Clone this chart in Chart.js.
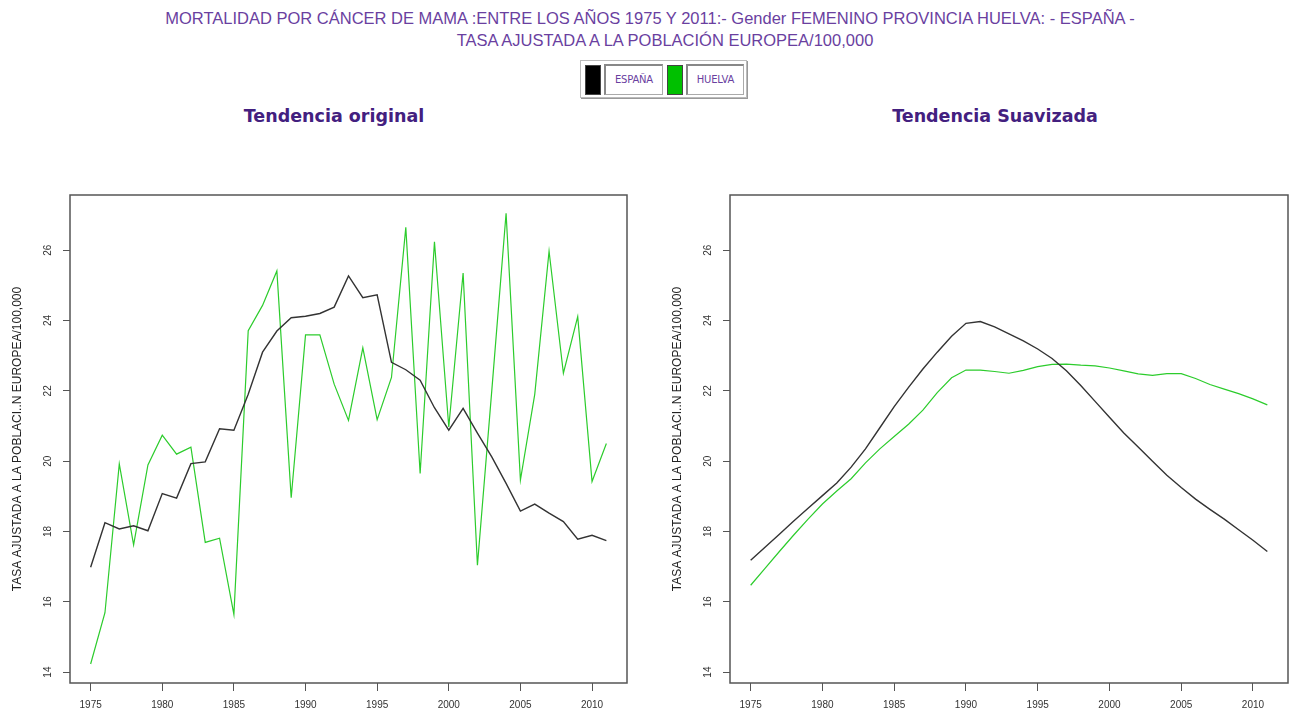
<!DOCTYPE html>
<html>
<head>
<meta charset="utf-8">
<script src="https://cdn.jsdelivr.net/npm/chart.js@4.4.1/dist/chart.umd.min.js"></script>
<style>
  html, body { margin:0; padding:0; background:#fff; width:1290px; height:715px; overflow:hidden; font-family:"Liberation Sans", Arial, sans-serif; }
  .tl { position:absolute; width:1200px; text-align:center; color:#6a3f9f; font-size:16.5px; line-height:20px; white-space:nowrap; }
  #legend { position:absolute; left:580px; top:60px; width:165px; height:36px; border:1px solid #bbb; box-shadow: 1px 1px 0 #999; background:#fff; }
  .sw { position:absolute; top:4px; width:14px; height:28px; border:1px solid #444; }
  .lb { position:absolute; top:3px; height:28px; border:1px solid #aaa; border-left:2px solid #888; border-top:2px solid #888; font-family:"DejaVu Sans", sans-serif; font-size:10px; color:#6a3f9f; line-height:28px; text-align:center; letter-spacing:-0.2px; }
  .sub { position:absolute; top:106px; width:400px; text-align:center; font-family:"DejaVu Sans", sans-serif; font-weight:bold; font-size:17.5px; color:#43207f; white-space:nowrap; }
  .cv { position:absolute; top:150px; height:565px; }
</style>
</head>
<body>
<div class="tl" style="left:50px;top:8px;">MORTALIDAD POR CÁNCER DE MAMA :ENTRE LOS AÑOS 1975 Y 2011:- Gender FEMENINO PROVINCIA HUELVA: - ESPAÑA -</div>
<div class="tl" style="left:65px;top:30px;">TASA AJUSTADA A LA POBLACIÓN EUROPEA/100,000</div>
<div id="legend">
  <div class="sw" style="left:4px;background:#000;"></div>
  <div class="lb" style="left:23px;width:56px;">ESPAÑA</div>
  <div class="sw" style="left:86px;background:#00c000;"></div>
  <div class="lb" style="left:105px;width:55px;">HUELVA</div>
</div>
<div class="sub" style="left:134px;">Tendencia original</div>
<div class="sub" style="left:795px;">Tendencia Suavizada</div>
<div class="cv" style="left:0;width:645px;"><canvas id="c1" width="645" height="565"></canvas></div>
<div class="cv" style="left:660px;width:630px;"><canvas id="c2" width="630" height="565"></canvas></div>
<script>
const years = [1975,1976,1977,1978,1979,1980,1981,1982,1983,1984,1985,1986,1987,1988,1989,1990,1991,1992,1993,1994,1995,1996,1997,1998,1999,2000,2001,2002,2003,2004,2005,2006,2007,2008,2009,2010,2011];
const espanaOriginal = [16.98,18.25,18.07,18.16,18.02,19.08,18.95,19.93,19.98,20.92,20.88,21.9,23.1,23.7,24.08,24.12,24.2,24.38,25.27,24.65,24.73,22.81,22.6,22.3,21.52,20.88,21.5,20.8,20.12,19.37,18.58,18.78,18.52,18.28,17.78,17.89,17.74];
const huelvaOriginal = [14.23,15.69,19.92,17.62,19.89,20.74,20.2,20.4,17.69,17.81,15.64,23.71,24.43,25.41,18.96,23.59,23.59,22.19,21.16,23.22,21.18,22.38,26.65,19.65,26.24,20.97,25.35,17.04,22.0,27.05,19.46,21.9,25.97,22.5,24.11,19.42,20.5];
const espanaSuav = [17.18,17.55,17.92,18.3,18.66,19.02,19.38,19.83,20.35,20.95,21.55,22.1,22.62,23.1,23.55,23.92,23.97,23.82,23.62,23.42,23.19,22.92,22.57,22.15,21.7,21.25,20.8,20.4,20.0,19.6,19.25,18.92,18.63,18.35,18.05,17.75,17.43];
const huelvaSuav = [16.47,16.95,17.43,17.9,18.35,18.78,19.15,19.5,19.95,20.35,20.7,21.05,21.45,21.95,22.37,22.59,22.59,22.55,22.5,22.58,22.69,22.75,22.76,22.73,22.71,22.65,22.57,22.48,22.44,22.49,22.49,22.35,22.18,22.05,21.92,21.77,21.6];
const xTicks = [1975,1980,1985,1990,1995,2000,2005,2010];
const yTicks = [14,16,18,20,22,24,26];
const yTitle = "TASA AJUSTADA A LA POBLACI..N EUROPEA/100,000";

const frame = {
  id:'frame',
  afterDraw(chart){
    const {ctx, chartArea:a} = chart;
    ctx.save(); ctx.strokeStyle='#555'; ctx.lineWidth=1.5;
    ctx.strokeRect(a.left, a.top, a.right-a.left, a.bottom-a.top);
    ctx.restore();
  }
};

function pts(v){ return years.map((y,i)=>({x:y, y:v[i]})); }

function make(id, d1, d2, padRight){
  new Chart(document.getElementById(id), {
    type:'line',
    data:{ datasets:[
      {label:'ESPAÑA', data:pts(d1), borderColor:'#333', borderWidth:1.4, pointRadius:0, tension:0},
      {label:'HUELVA', data:pts(d2), borderColor:'#2ccc2c', borderWidth:1.2, pointRadius:0, tension:0}
    ]},
    options:{
      responsive:false, animation:false,
      layout:{padding:{top:45, right:padRight, left:0, bottom:0}},
      plugins:{legend:{display:false}, tooltip:{enabled:false}},
      scales:{
        x:{ type:'linear', min:1973.56, max:2012.44,
            afterBuildTicks(s){ s.ticks = xTicks.map(v=>({value:v})); },
            afterFit(s){ s.height = 32; },
            grid:{drawOnChartArea:false, tickLength:8, color:'#555', lineWidth:1},
            border:{display:false},
            ticks:{ callback:v=>String(v), font:{family:'Liberation Sans', size:10}, color:'#333', padding:8, maxRotation:0, autoSkip:false } },
        y:{ type:'linear', min:13.69, max:27.57,
            afterBuildTicks(s){ s.ticks = yTicks.map(v=>({value:v})); },
            afterFit(s){ s.width = 70; },
            grid:{drawOnChartArea:false, tickLength:7, color:'#555', lineWidth:1},
            border:{display:false},
            ticks:{ font:{family:'Liberation Sans', size:10}, color:'#333', minRotation:90, maxRotation:90, crossAlign:'center', padding:9 },
            title:{ display:true, text:yTitle, font:{family:'Liberation Sans', size:12}, color:'#222', padding:{top:10, bottom:0} } }
      }
    },
    plugins:[frame]
  });
}
make('c1', espanaOriginal, huelvaOriginal, 18);
make('c2', espanaSuav, huelvaSuav, 2);
</script>
</body>
</html>
